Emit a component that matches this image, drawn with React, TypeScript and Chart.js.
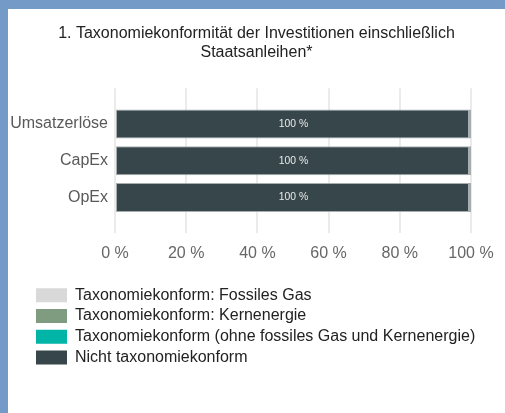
import React, { useEffect, useRef } from "react";
import { Chart, registerables } from "chart.js";

Chart.register(...registerables);

const categories = ["Umsatzerlöse", "CapEx", "OpEx"];
const seriesNames = [
  "Taxonomiekonform: Fossiles Gas",
  "Taxonomiekonform: Kernenergie",
  "Taxonomiekonform (ohne fossiles Gas und Kernenergie)",
  "Nicht taxonomiekonform",
];
const fossilGas = [0, 0, 0];
const nuclear = [0, 0, 0];
const alignedOther = [0, 0, 0];
const notAligned = [100, 100, 100];
const xTicks = [0, 20, 40, 60, 80, 100];
const titleLines = ["1. Taxonomiekonformität der Investitionen einschließlich", "Staatsanleihen*"];

const seriesColors = ["#d9d9d9", "#7f9b80", "#00b5a6", "#37464a"];
const FONT = "'Liberation Sans', Arial, sans-serif";

const valueLabels = {
  id: "valueLabels",
  afterDatasetsDraw(chart: any) {
    const ctx = chart.ctx;
    ctx.save();
    ctx.font = `10.4px ${FONT}`;
    ctx.fillStyle = "#e8eaea";
    ctx.textAlign = "center";
    ctx.textBaseline = "middle";
    chart.data.datasets.forEach((ds: any, di: number) => {
      const meta = chart.getDatasetMeta(di);
      if (meta.hidden) return;
      meta.data.forEach((el: any, i: number) => {
        const v = ds.data[i];
        if (!v) return;
        const p = el.getProps(["x", "y", "base"], true);
        ctx.fillText(`${v} %`, (p.x + p.base) / 2, p.y);
      });
    });
    ctx.restore();
  },
};

const legendShift = {
  id: "legendShift",
  afterLayout(chart: any) {
    const l = chart.legend;
    if (l) {
      l.left = 23.3;
    }
  },
};

export default function App() {
  const ref = useRef<HTMLCanvasElement | null>(null);
  useEffect(() => {
    if (!ref.current) return;
    const data = [fossilGas, nuclear, alignedOther, notAligned];
    const chart = new Chart(ref.current, {
      type: "bar",
      data: {
        labels: categories,
        datasets: seriesNames.map((name, i) => ({
          label: name,
          data: data[i],
          backgroundColor: seriesColors[i],
          borderColor: i === 3 ? "rgba(150,160,162,0.85)" : seriesColors[i],
          borderWidth: i === 3 ? { top: 1, bottom: 1, left: 1, right: 3 } : 0,
          borderSkipped: false,
          categoryPercentage: 1,
          barPercentage: 0.79,
        })),
      },
      options: {
        indexAxis: "y",
        responsive: false,
        animation: false,
        layout: { padding: { left: 0, right: 0, top: 0, bottom: 37.6 } },
        scales: {
          x: {
            stacked: true,
            min: 0,
            max: 100,
            afterBuildTicks(s: any) {
              s.ticks = xTicks.map((v) => ({ value: v }));
            },
            afterFit(s: any) {
              s.height = 49.3;
              s.paddingRight = 34;
            },
            ticks: {
              callback: (v: any) => `${v} %`,
              color: "#666",
              font: { family: FONT, size: 16 },
              padding: 11,
              maxRotation: 0,
            },
            grid: { color: "#ebebeb", lineWidth: 2, drawTicks: false },
            border: { display: false },
          },
          y: {
            stacked: true,
            afterBuildTicks(s: any) {
              s._startValue = -0.975;
              s._valueRange = 3.95;
            },
            afterFit(s: any) {
              s.width = 107;
            },
            ticks: {
              color: "#595959",
              font: { family: FONT, size: 16 },
              padding: 7,
            },
            grid: { display: false, drawTicks: false },
            border: { display: false },
          },
        },
        plugins: {
          title: {
            display: true,
            text: titleLines,
            color: "#222",
            font: { family: FONT, size: 16, weight: "normal", lineHeight: 1.1875 },
            padding: { top: 15.5, bottom: 25.8 },
          },
          legend: {
            display: true,
            position: "bottom",
            align: "start",
            labels: {
              boxWidth: 31,
              boxHeight: 14,
              padding: 4.7,
              color: "#222",
              font: { family: FONT, size: 16 },
              generateLabels: (c: any) =>
                (Chart.defaults.plugins.legend.labels.generateLabels as any)(c).map((l: any) => ({
                  ...l,
                  lineWidth: 0,
                  strokeStyle: l.fillStyle,
                })),
            },
          },
          tooltip: { enabled: false },
        },
      } as any,
      plugins: [valueLabels, legendShift],
    });
    return () => chart.destroy();
  }, []);

  return (
    <div style={{ position: "fixed", left: 0, top: 0, width: 505, height: 413, background: "#749ac8" }}>
      <div style={{ position: "absolute", left: 8, top: 9, width: 497, height: 404, background: "#ffffff" }}>
        <canvas ref={ref} width={497} height={404} style={{ display: "block", width: 497, height: 404 }} />
      </div>
    </div>
  );
}
